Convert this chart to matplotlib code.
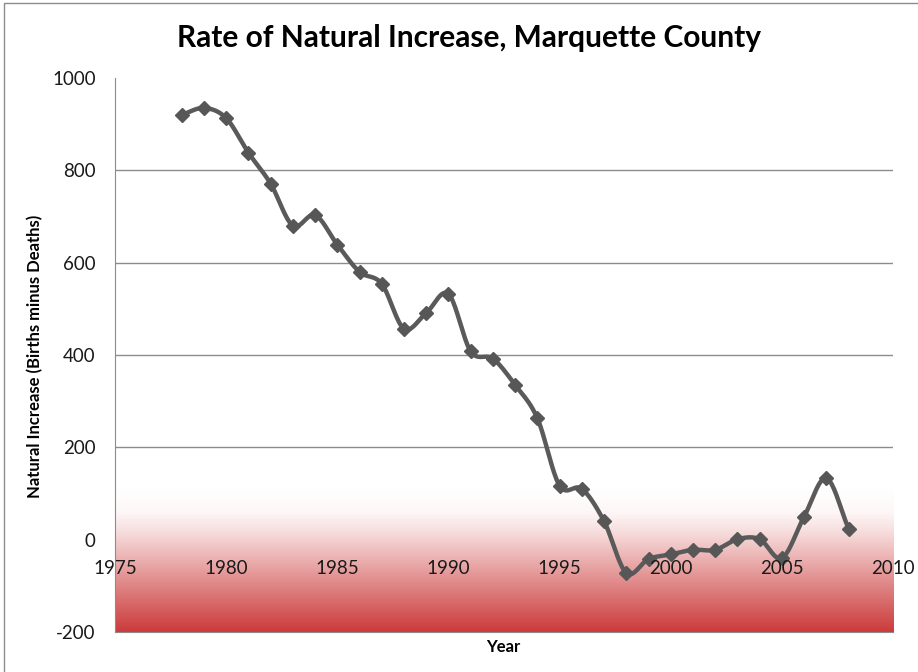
import numpy as np
import matplotlib
matplotlib.use("Agg")
import matplotlib.pyplot as plt
from matplotlib.colors import LinearSegmentedColormap
from matplotlib.patches import Rectangle

plt.rcParams['font.family'] = ['Lato', 'DejaVu Sans']

# data
years = [1978, 1979, 1980, 1981, 1982, 1983, 1984, 1985, 1986, 1987,
         1988, 1989, 1990, 1991, 1992, 1993, 1994, 1995, 1996, 1997,
         1998, 1999, 2000, 2001, 2002, 2003, 2004, 2005, 2006, 2007, 2008]
increase = [920, 935, 913, 838, 771, 680, 703, 639, 580, 554,
            457, 491, 532, 408, 392, 335, 263, 117, 110, 40,
            -72, -42, -32, -22, -22, 1, 1, -40, 50, 133, 24]
x_ticks = [1975, 1980, 1985, 1990, 1995, 2000, 2005, 2010]
y_ticks = [-200, 0, 200, 400, 600, 800, 1000]


def smooth(xs, ys, n=20):
    # catmull-rom style smoothing like the excel "smoothed line"
    xs = np.asarray(xs, float)
    ys = np.asarray(ys, float)
    px = np.concatenate([[2*xs[0]-xs[1]], xs, [2*xs[-1]-xs[-2]]])
    py = np.concatenate([[2*ys[0]-ys[1]], ys, [2*ys[-1]-ys[-2]]])
    outx, outy = [], []
    for i in range(1, len(px)-2):
        t = np.linspace(0, 1, n, endpoint=False)
        for arr, out in ((px, outx), (py, outy)):
            p0, p1, p2, p3 = arr[i-1], arr[i], arr[i+1], arr[i+2]
            out.extend(0.5*((2*p1) + (-p0+p2)*t + (2*p0-5*p1+4*p2-p3)*t**2
                            + (-p0+3*p1-3*p2+p3)*t**3))
    outx.append(xs[-1])
    outy.append(ys[-1])
    return np.array(outx), np.array(outy)


fig = plt.figure(figsize=(9.18, 6.72), dpi=100)
ax = fig.add_axes([0.1253, 0.0595, 0.8475, 0.8245])

# red gradient band at the bottom
cmap = LinearSegmentedColormap.from_list('band', [
    (0.0, (0.80, 0.23, 0.23)),
    (0.30, (0.87, 0.50, 0.50)),
    (0.58, (0.94, 0.76, 0.76)),
    (0.70, (0.97, 0.87, 0.87)),
    (0.84, (0.995, 0.97, 0.97)),
    (1.0, (1.0, 1.0, 1.0))])
grad = np.linspace(0, 1, 256).reshape(-1, 1)
ax.imshow(grad, extent=[1975, 2010, -200, 110], origin='lower', cmap=cmap,
          aspect='auto', zorder=0, interpolation='bicubic')

for v in [200, 400, 600, 800]:
    ax.axhline(v, color='#8c8c8c', lw=1, zorder=1)

sx, sy = smooth(years, increase)
ax.plot(sx, sy, color='#5a5a5a', lw=3.2, zorder=3, solid_capstyle='round')
ax.plot(years, increase, linestyle='none', marker='D', ms=7.5,
        color='#575757', zorder=4)

ax.set_xlim(1975, 2010)
ax.set_ylim(-200, 1000)
ax.set_yticks(y_ticks)
ax.set_yticklabels([str(v) for v in y_ticks], fontsize=13.5)
ax.set_xticks([])
for xt in x_ticks:
    ax.text(xt, -62, str(xt), ha='center', va='center', fontsize=13.5,
            color='#1a1a1a', zorder=5)

for s in ['top', 'right']:
    ax.spines[s].set_visible(False)
ax.spines['left'].set_color('#8c8c8c')
ax.spines['bottom'].set_color('#8c8c8c')
ax.tick_params(axis='y', length=0, pad=14, colors='#1a1a1a')

fig.text(0.511, 0.943, 'Rate of Natural Increase, Marquette County',
         ha='center', va='center', fontsize=21.5, fontweight='bold')
fig.text(0.038, 0.47, 'Natural Increase (Births minus Deaths)', rotation=90,
         ha='center', va='center', fontsize=12, fontweight='bold')
fig.text(0.548, 0.037, 'Year', ha='center', va='center', fontsize=12,
         fontweight='bold')

fig.patches.append(Rectangle((0.004, -0.01), 1.0, 1.005, transform=fig.transFigure,
                             fill=False, edgecolor='#8c8c8c', lw=1))

fig.savefig('out.png', dpi=100)
